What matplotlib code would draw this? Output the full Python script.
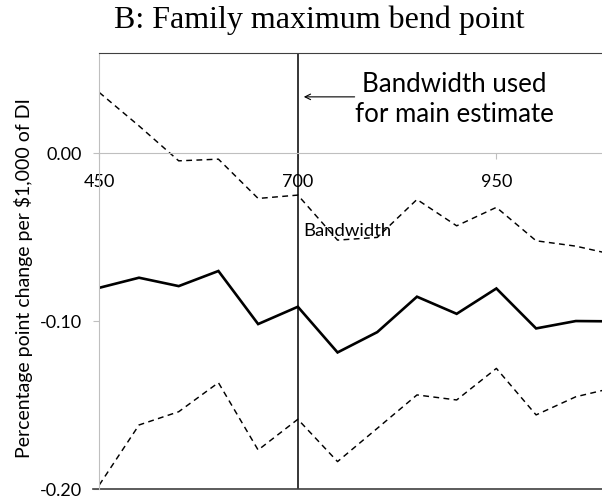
import matplotlib
matplotlib.use("Agg")
import matplotlib.pyplot as plt

# bandwidths (last one falls just past the visible edge)
bandwidth = [450, 500, 550, 600, 650, 700, 750, 800, 850, 900, 950, 1000, 1050, 1100]
estimate = [-0.080, -0.074, -0.079, -0.070, -0.1016, -0.0913, -0.1185, -0.1064,
            -0.0853, -0.0955, -0.0804, -0.1042, -0.0998, -0.100]
upper_ci = [0.0363, 0.0164, -0.0044, -0.0034, -0.0268, -0.0248, -0.0516, -0.0500,
            -0.0274, -0.0431, -0.0321, -0.0520, -0.0552, -0.0605]
lower_ci = [-0.1974, -0.1617, -0.1538, -0.1365, -0.1766, -0.1583, -0.1835, -0.1637,
            -0.1438, -0.1468, -0.1280, -0.1557, -0.1449, -0.1393]

xticks = [450, 700, 950]
yticks = [0.0, -0.1, -0.2]
ytick_labels = ["0.00", "-0.10", "-0.20"]
main_bw = 700

light = "#bfbfbf"
dark = "#404040"

fig = plt.figure(figsize=(6.02, 5.00), dpi=100)
ax = fig.add_axes([99.3 / 602, (500 - 489.3) / 500, (602 - 99.3) / 602, (489.3 - 52.7) / 500])

ax.plot(bandwidth, estimate, color="black", lw=1.9, solid_joinstyle="miter")
ax.plot(bandwidth, upper_ci, color="black", lw=1.05, linestyle=(0, (4, 3)))
ax.plot(bandwidth, lower_ci, color="black", lw=1.05, linestyle=(0, (4, 3)))

ax.axvline(main_bw, color="black", lw=1.1)

ax.set_xlim(450, 1083)
ax.set_ylim(-0.2, 0.06)

# x axis crosses at zero
ax.spines["bottom"].set_position(("data", 0))
ax.spines["bottom"].set_color(light)
ax.spines["left"].set_color(light)
ax.spines["top"].set_color(dark)
ax.spines["right"].set_visible(False)
ax.axhline(-0.2, xmin=-0.012, xmax=1, color=dark, lw=1.2, clip_on=False)

ax.set_xticks(xticks)
ax.set_xticklabels([str(t) for t in xticks])
ax.set_yticks(yticks)
ax.set_yticklabels(ytick_labels)
ax.tick_params(axis="x", direction="out", length=4, color=light, pad=11,
               labelsize=13)
ax.tick_params(axis="y", direction="out", length=4.5, color=light, pad=8,
               labelsize=13)
for lab in ax.get_xticklabels() + ax.get_yticklabels():
    lab.set_family("Lato")

ax.text(762, -0.0463, "Bandwidth", ha="center", va="center", fontsize=13.3,
        family="Lato")
ax.annotate("", xy=(704, 0.0337), xytext=(775, 0.0337),
            arrowprops=dict(arrowstyle="->", color="black", lw=0.8))
ax.text(897, 0.0323, "Bandwidth used\nfor main estimate", ha="center",
        va="center", fontsize=18.6, family="Lato", linespacing=1.25)

fig.text(24 / 602, 1 - 278 / 500, "Percentage point change per $1,000 of DI",
         rotation=90, ha="center", va="center", fontsize=14, family="Lato")
fig.text(319 / 602, 1 - 20 / 500, "B: Family maximum bend point", ha="center",
         va="center", fontsize=23, family="Liberation Serif")

fig.savefig("out.png", dpi=100)
